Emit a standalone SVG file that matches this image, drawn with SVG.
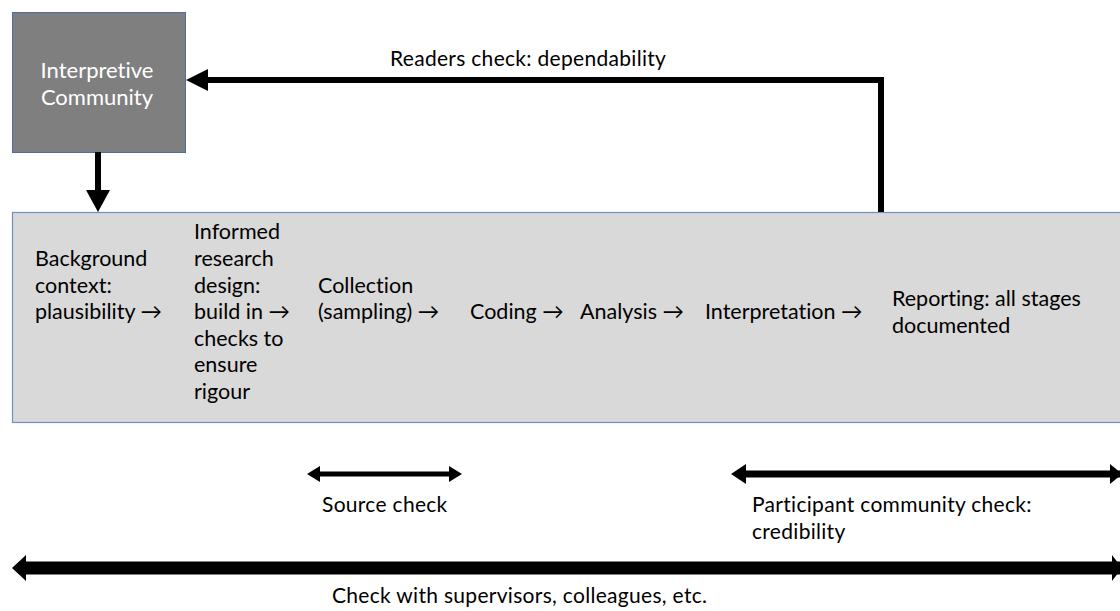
<svg xmlns="http://www.w3.org/2000/svg" width="1120" height="611" viewBox="0 0 1120 611">
<style>
text{font-family:Lato,"Open Sans","Liberation Sans",sans-serif;font-size:21.5px;fill:#000;font-variant-ligatures:none}
.w{fill:#fff;font-size:22px}
.lb{font-size:21px;letter-spacing:0.3px}
.ln{stroke:#000;fill:none}
.hd{fill:#000}
</style>
<rect width="1120" height="611" fill="#fff"/>
<g id="interpretive-community">
<rect x="12.5" y="12.5" width="173" height="140" fill="#7f7f7f" stroke="#4a6fa0" stroke-width="1"/>
<text class="w" x="97" y="78" text-anchor="middle">Interpretive</text>
<text class="w" x="97" y="105" text-anchor="middle">Community</text>
</g>
<g id="process">
<rect x="12.5" y="212.5" width="1120" height="210" fill="#d9d9d9" stroke="#6f8fbf" stroke-width="1.2"/>
<text x="35" y="266">Background</text>
<text x="35" y="293">context:</text>
<text x="35" y="319">plausibility →</text>
<text x="194" y="239">Informed</text>
<text x="194" y="266">research</text>
<text x="194" y="293">design:</text>
<text x="194" y="319">build in →</text>
<text x="194" y="346">checks to</text>
<text x="194" y="372">ensure</text>
<text x="194" y="399">rigour</text>
<text x="318" y="293">Collection</text>
<text x="318" y="319">(sampling) →</text>
<text x="470" y="319">Coding →</text>
<text x="580" y="319">Analysis →</text>
<text x="705" y="319">Interpretation →</text>
<text x="892" y="306">Reporting: all stages</text>
<text x="892" y="333">documented</text>
</g>
<g id="labels">
<text class="lb" x="390" y="66">Readers check: dependability</text>
<text class="lb" x="322" y="512">Source check</text>
<text class="lb" x="752" y="512">Participant community check:</text>
<text class="lb" x="752" y="539">credibility</text>
<text class="lb" x="332" y="603">Check with supervisors, colleagues, etc.</text>
</g>
<g id="connectors">
<line class="ln" x1="98" y1="152" x2="98" y2="192" stroke-width="6"/>
<polygon class="hd" points="86,190 110,190 98,212"/>
<polyline class="ln" points="881,212 881,80 206,80" stroke-width="6"/>
<polygon class="hd" points="186,80 208,69 208,91"/>
<line class="ln" x1="318" y1="474" x2="451" y2="474" stroke-width="5"/>
<polygon class="hd" points="307,474 320,466 320,482"/>
<polygon class="hd" points="462,474 449,466 449,482"/>
<line class="ln" x1="745" y1="474" x2="1120" y2="474" stroke-width="7"/>
<polygon class="hd" points="731,474 746,464 746,484"/>
<polygon class="hd" points="1122,474 1110,464 1110,484"/>
<line class="ln" x1="24" y1="568" x2="1120" y2="568" stroke-width="13"/>
<polygon class="hd" points="12,568 26,555 26,581"/>
<polygon class="hd" points="1122,568 1112,555 1112,581"/>
</g>
</svg>
